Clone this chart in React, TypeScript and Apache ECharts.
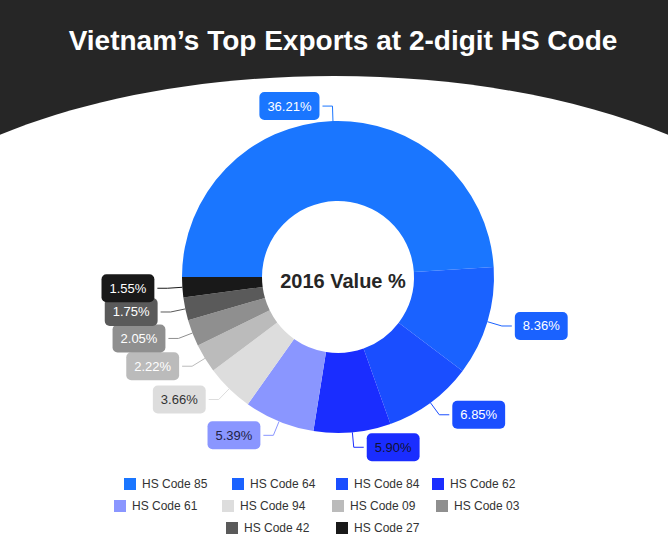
import React, { useEffect, useRef } from "react";
import * as echarts from "echarts";

const categories = [
  "HS Code 85",
  "HS Code 64",
  "HS Code 84",
  "HS Code 62",
  "HS Code 61",
  "HS Code 94",
  "HS Code 09",
  "HS Code 03",
  "HS Code 42",
  "HS Code 27",
];
const values = [36.21, 8.36, 6.85, 5.9, 5.39, 3.66, 2.22, 2.05, 1.75, 1.55];
const colors = [
  "#1A76FF",
  "#1A62FF",
  "#1A4EFF",
  "#1A2DFF",
  "#8A96FF",
  "#DDDDDD",
  "#BBBBBB",
  "#8F8F8F",
  "#5A5A5A",
  "#191919",
];
const labelColors = [
  "#ffffff",
  "#ffffff",
  "#ffffff",
  "#111133",
  "#222244",
  "#333333",
  "#ffffff",
  "#ffffff",
  "#ffffff",
  "#ffffff",
];
// legend item positions [left, iconCenterY]
const legendPos: [number, number][] = [
  [124, 484],
  [232, 484],
  [336, 484],
  [432, 484],
  [114, 506],
  [222, 506],
  [332, 506],
  [436, 506],
  [226, 528],
  [336, 528],
];

const FONT = "'Liberation Sans', Arial, Helvetica, sans-serif";

export default function App() {
  const ref = useRef<HTMLDivElement>(null);
  useEffect(() => {
    if (!ref.current) return;
    const chart = echarts.init(ref.current, null, { renderer: "svg" });
    const data = categories.map((name, i) => ({
      name,
      value: values[i],
      itemStyle: { color: colors[i] },
      label: {
        backgroundColor: colors[i],
        color: labelColors[i],
      },
      labelLine: { lineStyle: { color: colors[i] } },
    }));
    chart.setOption({
      animation: false,
      backgroundColor: "#ffffff",
      graphic: [
        {
          type: "rect",
          z: -10,
          silent: true,
          shape: { x: 0, y: 0, width: 668, height: 306 },
          style: { fill: "#262626" },
        },
        {
          type: "ellipse",
          z: -9,
          silent: true,
          shape: { cx: 334, cy: 306, rx: 500, ry: 230 },
          style: { fill: "#ffffff" },
        },
        {
          type: "text",
          z: 10,
          x: 343,
          y: 40,
          style: {
            text: "Vietnam’s Top Exports at 2-digit HS Code",
            fill: "#ffffff",
            font: `bold 28px ${FONT}`,
            textAlign: "center",
            textVerticalAlign: "middle",
          },
        },
        {
          type: "text",
          z: 10,
          x: 343,
          y: 281,
          style: {
            text: "2016 Value %",
            fill: "#262626",
            font: `bold 20px ${FONT}`,
            textAlign: "center",
            textVerticalAlign: "middle",
          },
        },
      ],
      legend: legendPos.map((p, i) => ({
        show: true,
        left: p[0],
        top: p[1] - 6,
        padding: 0,
        orient: "horizontal",
        data: [categories[i]],
        icon: "rect",
        itemWidth: 12,
        itemHeight: 12,
        itemGap: 0,
        selectedMode: false,
        textStyle: {
          fontSize: 12,
          color: "#333333",
          fontFamily: FONT,
          padding: [0, 0, 0, 1],
        },
      })),
      series: [
        {
          type: "pie",
          center: [338, 277],
          radius: [76, 156],
          startAngle: 180,
          clockwise: true,
          avoidLabelOverlap: false,
          labelLayout: { hideOverlap: false },
          itemStyle: { borderWidth: 0 },
          label: {
            show: true,
            position: "outside",
            formatter: (p: any) => p.value.toFixed(2) + "%",
            fontSize: 13,
            fontFamily: FONT,
            padding: [8, 8, 7, 8],
            borderRadius: 5,
            distanceToLabelLine: 3,
          },
          labelLine: {
            show: true,
            length: 15,
            length2: 10,
            smooth: false,
            lineStyle: { width: 1 },
          },
          data,
        },
      ],
    });
    return () => chart.dispose();
  }, []);
  return (
    <div
      ref={ref}
      style={{ position: "fixed", left: 0, top: 0, width: 668, height: 558 }}
    />
  );
}
